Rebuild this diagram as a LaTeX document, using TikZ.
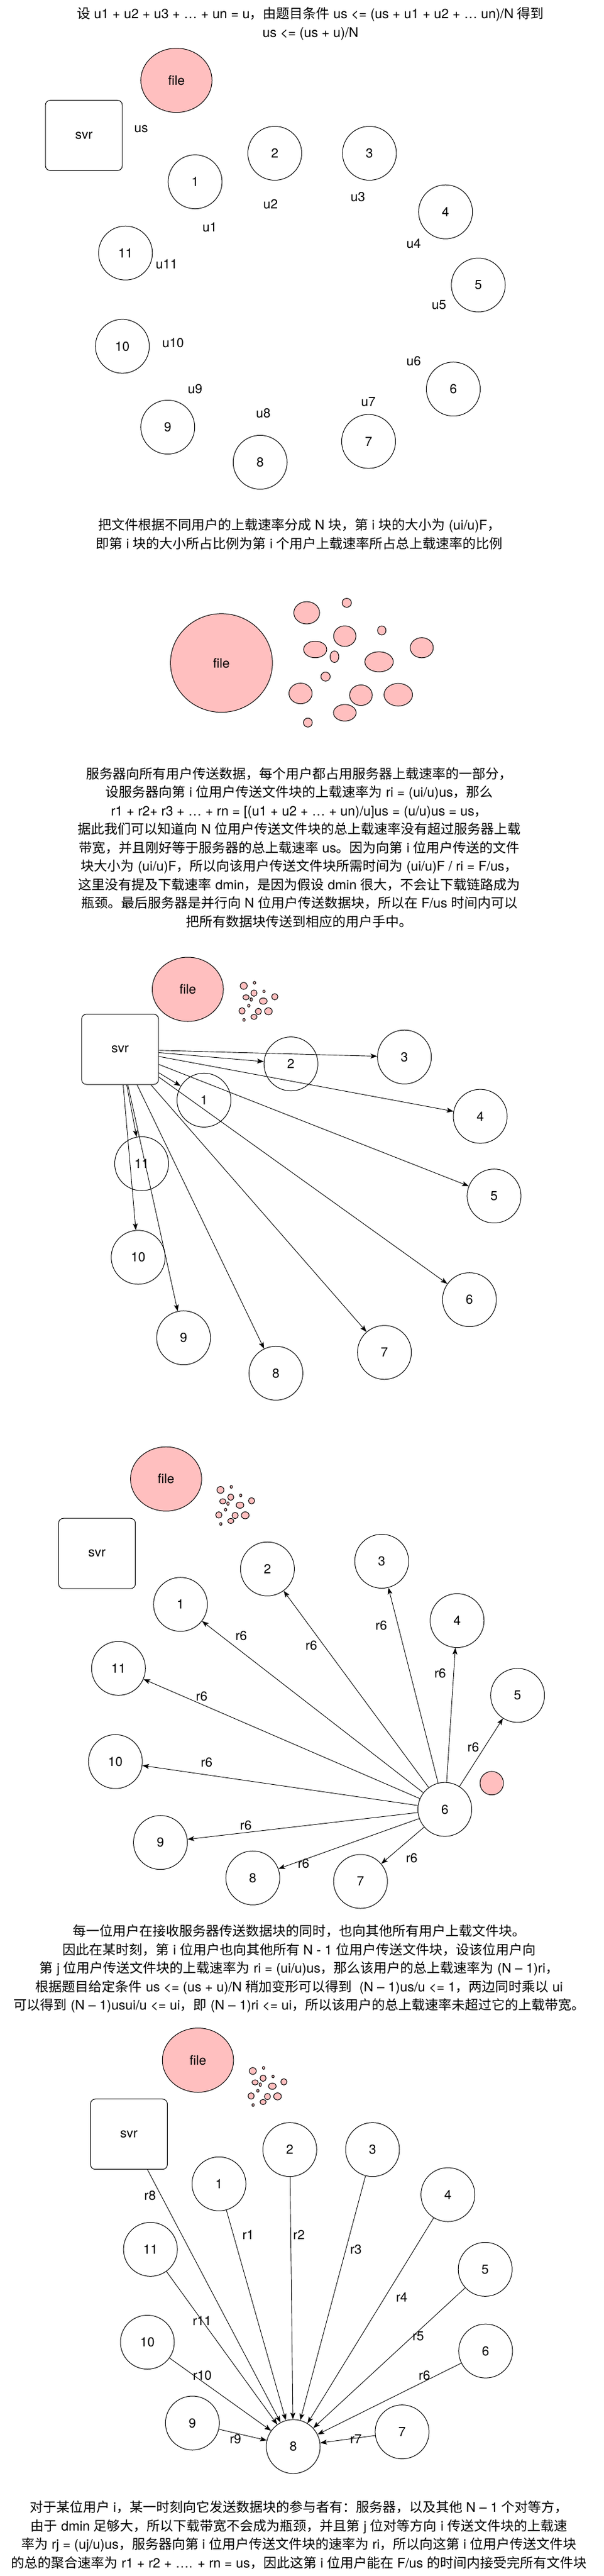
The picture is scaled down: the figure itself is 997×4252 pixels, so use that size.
\documentclass[tikz,border=0pt]{standalone}
\usepackage{fontspec}
\setmainfont{TeX Gyre Heros}
\newfontfamily\cjkfont{Noto Sans CJK SC}
\usetikzlibrary{shapes.geometric,arrows.meta}
\makeatletter
\XeTeXinterchartokenstate=1
\newXeTeXintercharclass\CJKcls
\count@="21
\loop\XeTeXcharclass\count@=0 \ifnum\count@<"2FFF \advance\count@ by 1 \repeat
\count@="3000
\loop\XeTeXcharclass\count@=\CJKcls\ifnum\count@<"303F \advance\count@ by 1 \repeat
\count@="4E00
\loop\XeTeXcharclass\count@=\CJKcls\ifnum\count@<"9FFF \advance\count@ by 1 \repeat
\count@="FF00
\loop\XeTeXcharclass\count@=\CJKcls\ifnum\count@<"FFEF \advance\count@ by 1 \repeat
\makeatother
\XeTeXinterchartoks 0 \CJKcls = {\cjkfont}
\XeTeXinterchartoks 4095 \CJKcls = {\cjkfont}
\XeTeXinterchartoks \CJKcls 0 = {\rmfamily}
\XeTeXinterchartoks \CJKcls 4095 = {\rmfamily}
\definecolor{pinkc}{RGB}{255,191,191}
\newcommand\lblfont{\fontsize{21.5}{24}\selectfont}
\newcommand\parafont{\fontsize{22}{30.5}\selectfont}
\newcommand\pinkblobs{%
  \draw[blob] (0,0) ellipse [x radius=21.3, y radius=18.45];
  \draw[blob] (66.1,-16.5) ellipse [x radius=7.65, y radius=7.45];
  \draw[blob] (62.9,38.5) ellipse [x radius=18.45, y radius=17];
  \draw[blob] (124,29.1) ellipse [x radius=7, y radius=7.45];
  \draw[blob] (14,60.5) ellipse [x radius=19.1, y radius=13.7];
  \draw[blob] (45.8,72.5) ellipse [x radius=7.3, y radius=9.5];
  \draw[blob] (190.1,57.7) ellipse [x radius=19.1, y radius=16.6];
  \draw[blob] (119.5,80.9) ellipse [x radius=23.5, y radius=16.6];
  \draw[blob] (31.1,105.3) ellipse [x radius=7.65, y radius=7.45];
  \draw[blob] (-10.2,133.1) ellipse [x radius=19.1, y radius=17];
  \draw[blob] (89.6,136) ellipse [x radius=18.75, y radius=17];
  \draw[blob] (151.3,135.2) ellipse [x radius=23.5, y radius=18.65];
  \draw[blob] (62.9,165) ellipse [x radius=18.75, y radius=13.7];
  \draw[blob] (1.9,181.2) ellipse [x radius=7.3, y radius=7.45];
}
\tikzset{
  user/.style={circle, draw, line width=1pt, minimum size=89pt, inner sep=0pt, font=\lblfont},
  server/.style={rectangle, rounded corners=8pt, draw, line width=1pt, minimum width=127pt, minimum height=116pt, inner sep=0pt, font=\lblfont},
  filenode/.style={ellipse, draw, fill=pinkc, line width=1pt, minimum width=117.6pt, minimum height=106pt, inner sep=0pt, font=\lblfont},
  lab/.style={inner sep=0pt, font=\lblfont},
  para/.style={align=center, inner sep=0pt, font=\parafont},
  blob/.style={draw, fill=pinkc, line width=1pt},
  edge/.style={-{Stealth[length=11pt,width=8pt,inset=2.5pt]}, line width=0.9pt},
}
\begin{document}
\begin{tikzpicture}[x=1pt,y=-1pt]
\useasboundingbox[fill=white] (0,0) rectangle (997,4252);

% ---------- Panel 1 ----------
\node[para] (t1) at (513,39.1) {设 u1 + u2 + u3 + … + un = u，由题目条件 us <= (us + u1 + u2 + … un)/N 得到\\us <= (us + u)/N};
\node[filenode] (afile) at (291.5,132.6) {file};
\node[server] (asvr) at (138.6,223.5) {svr};
\node[lab] (aus) at (233.3,213) {us};
\node[user] (a1) at (322.4,300.1) {1};
\node[user] (a2) at (454,253) {2};
\node[user] (a3) at (610.4,253) {3};
\node[user] (a4) at (736.2,349.7) {4};
\node[user] (a5) at (790.3,470.5) {5};
\node[user] (a6) at (749,642.2) {6};
\node[user] (a7) at (609,728.6) {7};
\node[user] (a8) at (429.8,763) {8};
\node[user] (a9) at (277.2,705) {9};
\node[user] (a10) at (202.2,571.6) {10};
\node[user] (a11) at (207.3,417.7) {11};
\node[lab] (au1) at (346.5,375) {u1};
\node[lab] (au2) at (447,337) {u2};
\node[lab] (au3) at (591.3,325.5) {u3};
\node[lab] (au4) at (683.5,401.8) {u4};
\node[lab] (au5) at (725.4,503.5) {u5};
\node[lab] (au6) at (683.5,596.4) {u6};
\node[lab] (au7) at (608.5,663) {u7};
\node[lab] (au8) at (435,681.6) {u8};
\node[lab] (au9) at (322.4,642) {u9};
\node[lab] (au10) at (286,565.9) {u10};
\node[lab] (au11) at (275.3,436.2) {u11};

% ---------- Panel 2 ----------
\node[para] (t2) at (494.7,881.8) {把文件根据不同用户的上载速率分成 N 块，第 i 块的大小为 (ui/u)F，\\即第 i 块的大小所占比例为第 i 个用户上载速率所占总上载速率的比例};
\node[filenode, minimum width=168.5pt, minimum height=162.8pt] (bfile) at (365.9,1094.3) {file};
\begin{scope}[shift={(506.8,1011.5)}]
\pinkblobs
\end{scope}

% ---------- Panel 3 ----------
\node[para] (t3) at (494.6,1398.8) {服务器向所有用户传送数据，每个用户都占用服务器上载速率的一部分，\\设服务器向第 i 位用户传送文件块的上载速率为 ri = (ui/u)us，那么\\r1 + r2+ r3 + … + rn = [(u1 + u2 + … + un)/u]us = (u/u)us = us，\\据此我们可以知道向 N 位用户传送文件块的总上载速率没有超过服务器上载\\带宽，并且刚好等于服务器的总上载速率 us。因为向第 i 位用户传送的文件\\块大小为 (ui/u)F，所以向该用户传送文件块所需时间为 (ui/u)F / ri = F/us，\\这里没有提及下载速率 dmin，是因为假设 dmin 很大，不会让下载链路成为\\瓶颈。最后服务器是并行向 N 位用户传送数据块，所以在 F/us 时间内可以\\把所有数据块传送到相应的用户手中。};
\node[filenode] (cfile) at (310.3,1633) {file};
\begin{scope}[shift={(402.7,1627.3)}, xscale=0.27, yscale=0.31]
\pinkblobs
\end{scope}
\node[server] (csvr) at (198.4,1732) {svr};
\node[user] (c1) at (337,1815.9) {1};
\node[user] (c2) at (480.7,1756.1) {2};
\node[user] (c3) at (668.2,1744.7) {3};
\node[user] (c4) at (793.5,1842.6) {4};
\node[user] (c5) at (816.4,1974.2) {5};
\node[user] (c6) at (775.7,2145.2) {6};
\node[user] (c7) at (635.2,2232.3) {7};
\node[user] (c8) at (455.9,2266.7) {8};
\node[user] (c9) at (303.3,2208.2) {9};
\node[user] (c10) at (228.3,2075.3) {10};
\node[user] (c11) at (234,1920.8) {11};
\foreach \k in {1,...,11} {\draw[edge] (csvr) -- (c\k);}

% ---------- Panel 4 ----------
\node[filenode] (dfile) at (274.4,2441.2) {file};
\begin{scope}[shift={(364.3,2459.3)}, xscale=0.27, yscale=0.31]
\pinkblobs
\end{scope}
\node[server] (dsvr) at (160.2,2564.2) {svr};
\node[user] (d1) at (298.2,2648.2) {1};
\node[user] (d2) at (441.9,2589.7) {2};
\node[user] (d3) at (630.7,2577) {3};
\node[user] (d4) at (755.3,2675) {4};
\node[user] (d5) at (855.2,2798.4) {5};
\node[user] (d6) at (735,2986.6) {6};
\node[user] (d7) at (595.7,3105.5) {7};
\node[user] (d8) at (417.7,3099.7) {8};
\node[user] (d9) at (265.1,3041.2) {9};
\node[user] (d10) at (190.7,2907.7) {10};
\node[user] (d11) at (195.8,2753.8) {11};
\draw[blob] (812.5,2943.3) circle [radius=19.4];
\foreach \k in {1,2,3,4,5,7,8,9,10,11} {\draw[edge] (d6) -- (d\k);}
\node[lab] (dr1) at (398.6,2700.5) {r6};
\node[lab] (dr2) at (514.4,2716.4) {r6};
\node[lab] (dr3) at (630,2683.3) {r6};
\node[lab] (dr4) at (727.3,2762.1) {r6};
\node[lab] (dr5) at (782,2884.2) {r6};
\node[lab] (dr11) at (333.2,2799.6) {r6};
\node[lab] (dr10) at (341.4,2909) {r6};
\node[lab] (dr9) at (406.3,3013.3) {r6};
\node[lab] (dr8) at (501.6,3075.6) {r6};
\node[lab] (dr7) at (680.3,3066.7) {r6};

% ---------- Text 5 ----------
\node[para] (t5) at (494.5,3249.8) {每一位用户在接收服务器传送数据块的同时，也向其他所有用户上载文件块。\\因此在某时刻，第 i 位用户也向其他所有 N - 1 位用户传送文件块，设该位用户向\\第 j 位用户传送文件块的上载速率为 ri = (ui/u)us，那么该用户的总上载速率为 (N – 1)ri，\\根据题目给定条件 us <= (us + u)/N 稍加变形可以得到 \ (N – 1)us/u <= 1，两边同时乘以 ui\\可以得到 (N – 1)usui/u <= ui，即 (N – 1)ri <= ui，所以该用户的总上载速率未超过它的上载带宽。};

% ---------- Panel 5 ----------
\node[filenode] (efile) at (327.1,3400.5) {file};
\begin{scope}[shift={(417.7,3418.4)}, xscale=0.27, yscale=0.31]
\pinkblobs
\end{scope}
\node[server] (esvr) at (213,3522.7) {svr};
\node[user] (e1) at (361.8,3604.7) {1};
\node[user] (e2) at (478.8,3548.1) {2};
\node[user] (e3) at (615.5,3548.1) {3};
\node[user] (e4) at (740.1,3622.5) {4};
\node[user] (e5) at (801.7,3745.8) {5};
\node[user] (e6) at (802.4,3880.6) {6};
\node[user] (e7) at (664.4,4014.1) {7};
\node[user] (e8) at (484.5,4038.3) {8};
\node[user] (e9) at (317.9,3999.5) {9};
\node[user] (e10) at (243.5,3866) {10};
\node[user] (e11) at (248.6,3712.8) {11};
\draw[edge] (esvr) -- (e8);
\foreach \k in {1,2,3,4,5,6,7,9,10,11} {\draw[edge] (e\k) -- (e8);}
\node[lab] (er8) at (248,3623.8) {r8};
\node[lab] (er1) at (410.1,3688.6) {r1};
\node[lab] (er2) at (494,3688.6) {r2};
\node[lab] (er3) at (588.1,3712.8) {r3};
\node[lab] (er4) at (663.8,3792.3) {r4};
\node[lab] (er11) at (333.8,3831) {r11};
\node[lab] (er5) at (691.1,3855.8) {r5};
\node[lab] (er10) at (334.4,3921.3) {r10};
\node[lab] (er6) at (701.3,3921.3) {r6};
\node[lab] (er9) at (389.1,4025.6) {r9};
\node[lab] (er7) at (588.1,4025.6) {r7};

% ---------- Text 6 ----------
\node[para] (t6) at (494,4184.5) {对于某位用户 i，某一时刻向它发送数据块的参与者有：服务器，以及其他 N – 1 个对等方，\\由于 dmin 足够大，所以下载带宽不会成为瓶颈，并且第 j 位对等方向 i 传送文件块的上载速\\率为 rj = (uj/u)us，服务器向第 i 位用户传送文件块的速率为 ri，所以向这第 i 位用户传送文件块\\的总的聚合速率为 r1 + r2 + …. + rn = us，因此这第 i 位用户能在 F/us 的时间内接受完所有文件块};
\end{tikzpicture}
\end{document}
